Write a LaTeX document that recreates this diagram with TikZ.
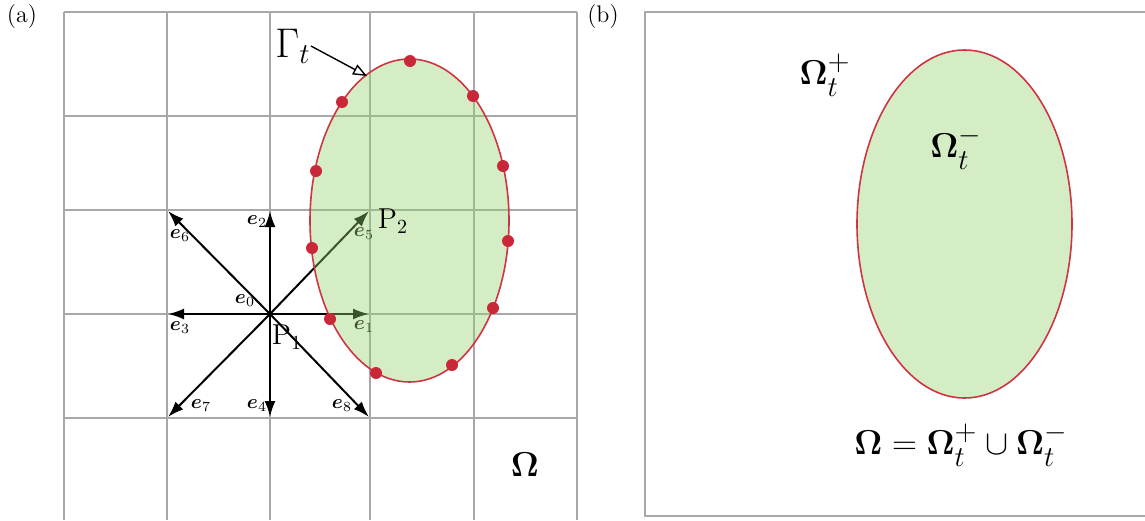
\documentclass[tikz,border=0pt]{standalone}
\usepackage{amsmath,bm}
\usetikzlibrary{arrows.meta}
\definecolor{gridgray}{RGB}{168,168,168}
\definecolor{redline}{RGB}{206,52,66}
\definecolor{reddot}{RGB}{200,40,56}
\definecolor{fillgreen}{RGB}{150,210,110}
\begin{document}
\begin{tikzpicture}[x=0.5pt,y=-0.5pt,
  gridline/.style={draw=gridgray,line width=0.8pt},
  vec/.style={-{Latex[length=8pt,width=5.5pt]},line width=1pt,draw=black},
  vlabel/.style={inner sep=0pt,font=\normalsize},
  dot/.style={circle,fill=reddot,inner sep=0pt,minimum size=6pt},
  region/.style={fill=fillgreen,fill opacity=0.4,draw=redline,line width=0.8pt},
  bigmath/.style={inner sep=0pt,font=\fontsize{19}{23}\selectfont}]
\useasboundingbox (0,0) rectangle (1145,520);
% panel labels
\node[inner sep=0pt,font=\large] (la) at (22,17) {(a)};
\node[inner sep=0pt,font=\large] (lb) at (603,17) {(b)};
% grid of panel (a)
\foreach \x in {64,167,270,370,474,577} \draw[gridline] (\x,12) -- (\x,520);
\foreach \y in {12,116,210,314,418} \draw[gridline] (64,\y) -- (577,\y);
% lattice vectors
\coordinate (P1) at (270,314);
\coordinate (E1) at (369,314);
\coordinate (E2) at (270,211);
\coordinate (E3) at (168,314);
\coordinate (E4) at (270,417);
\coordinate (E5) at (369,211);
\coordinate (E6) at (168,211);
\coordinate (E7) at (168,417);
\coordinate (E8) at (369,417);
\foreach \e in {1,...,8} \draw[vec] (P1) -- (E\e);
\node[vlabel] (l0) at (245,301) {$\bm{e}_0$};
\node[vlabel] (l1) at (364,327) {$\bm{e}_1$};
\node[vlabel] (l2) at (257,222) {$\bm{e}_2$};
\node[vlabel] (l3) at (180,328) {$\bm{e}_3$};
\node[vlabel] (l4) at (257,406) {$\bm{e}_4$};
\node[vlabel] (l5) at (364,234) {$\bm{e}_5$};
\node[vlabel] (l6) at (180,236) {$\bm{e}_6$};
\node[vlabel] (l7) at (201,406) {$\bm{e}_7$};
\node[vlabel] (l8) at (342,406) {$\bm{e}_8$};
% interface in (a)
\path[region] (409.5,220.5) ellipse [x radius=49.75pt, y radius=80.75pt];
\foreach \i/\px/\py in {1/410/61,2/473/96,3/503/166,4/508/241,5/493/308,6/452/365,7/376/373,8/330/319,9/312/248,10/316/171,11/342/102}
  \node[dot] (d\i) at (\px,\py) {};
\node[inner sep=0pt,font=\Large] (p1) at (287,337) {$\mathrm{P}_1$};
\node[inner sep=0pt,font=\Large] (p2) at (393,221) {$\mathrm{P}_2$};
\node[inner sep=0pt,font=\huge] (G) at (293,46) {$\Gamma_t$};
\coordinate (Gtip) at (367,76);
\draw[-{Triangle[open,length=7pt,width=5.5pt]},line width=0.7pt] (G.east) -- (Gtip);
\node[bigmath] (om) at (525,465) {$\bm{\Omega}$};
% panel (b)
\draw[gridline] (1150,12) -- (645,12) -- (645,516) -- (1150,516);
\path[region] (964.5,224) ellipse [x radius=53.75pt, y radius=87pt];
\node[bigmath] (omp) at (825,75) {$\bm{\Omega}_t^+$};
\node[bigmath] (omm) at (956,148) {$\bm{\Omega}_t^-$};
\node[bigmath] (eq) at (961,445) {$\bm{\Omega}=\bm{\Omega}_t^+\cup\bm{\Omega}_t^-$};
\end{tikzpicture}
\end{document}
